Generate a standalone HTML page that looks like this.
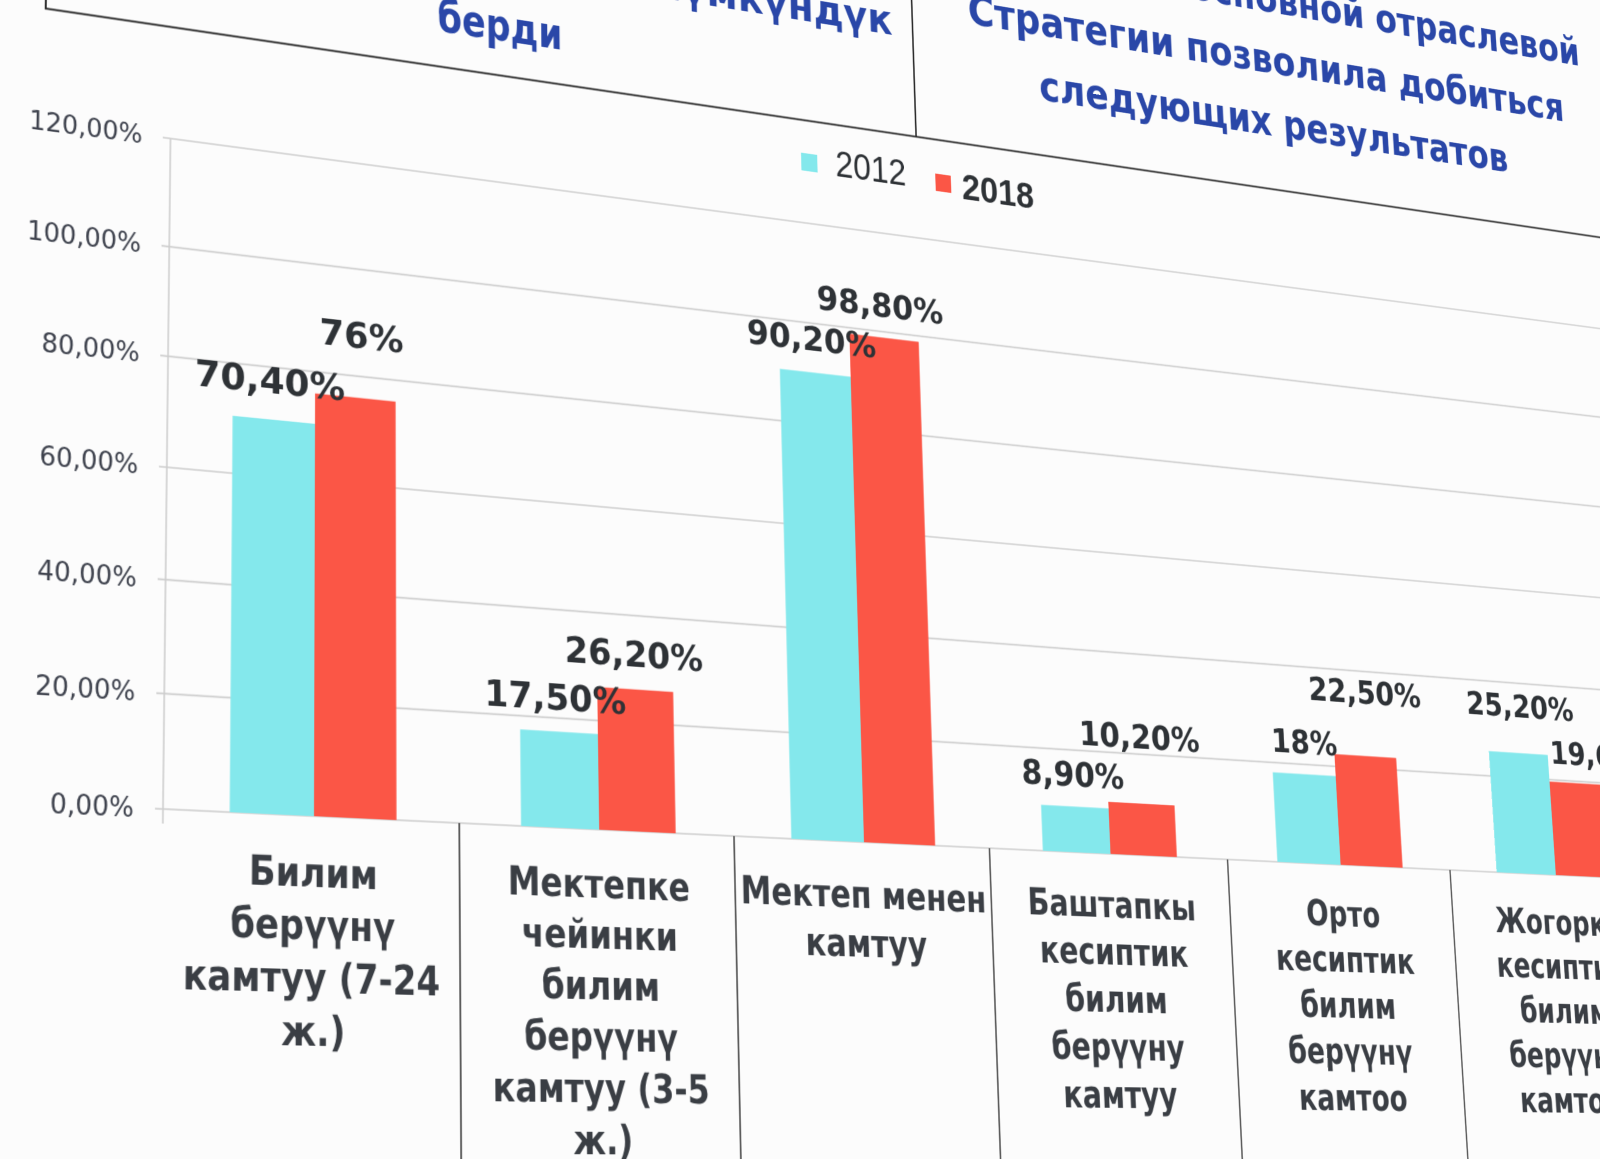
<!DOCTYPE html>
<html>
<head>
<meta charset="utf-8">
<style>
html,body{margin:0;padding:0;width:1600px;height:1159px;overflow:hidden;background:#fcfcfc;}
#frame{position:relative;width:1600px;height:1159px;overflow:hidden;background:#fcfcfc;}
#plane{position:absolute;left:0;top:0;width:1px;height:1px;transform-origin:0 0;
transform:matrix3d(0.981537,0.144727,0,0.00012256,-0.020478,0.954675,0,-0.00005695,0,0,1,0,170.5,138.5,0,1);}
#plane svg{position:absolute;left:-300px;top:-450px;overflow:visible;}
</style>
</head>
<body>
<div id="frame">
<div id="plane">
<svg width="2400" height="1500" viewBox="-300 -450 2400 1500">
  <!-- title box lines -->
  <path d="M-130,-450 L-130,-116.5 L2100,-116.5 M862,-450 L862,-117" stroke="#2b2b2b" stroke-width="2" fill="none"/>

  <!-- titles -->
  <g fill="#2a47a8" font-family="DejaVu Sans, sans-serif" font-weight="bold">
    <text x="836" y="-231" text-anchor="end" font-size="48" textLength="300" lengthAdjust="spacingAndGlyphs">мүмкүндүк</text>
    <text x="520" y="-231" text-anchor="end" font-size="48">билим алууга</text>
    <text x="360" y="-155" text-anchor="middle" font-size="48" textLength="143" lengthAdjust="spacingAndGlyphs">берди</text>
    <text x="1361" y="-335" text-anchor="middle" font-size="50" textLength="916" lengthAdjust="spacingAndGlyphs">Реализация основной отраслевой</text>
    <text x="1361.5" y="-259" text-anchor="middle" font-size="50" textLength="853" lengthAdjust="spacingAndGlyphs">Стратегии позволила добиться</text>
    <text x="1360.5" y="-182" text-anchor="middle" font-size="50" textLength="669" lengthAdjust="spacingAndGlyphs">следующих результатов</text>
  </g>

  <!-- legend -->
  <rect x="716" y="-79" width="20" height="20" fill="#84e8ec"/>
  <text x="803" y="-58" text-anchor="middle" font-family="Liberation Sans, sans-serif" font-size="42" fill="#2e3236" textLength="89" lengthAdjust="spacingAndGlyphs">2012</text>
  <rect x="885" y="-77" width="20" height="20" fill="#fb5646"/>
  <text x="966" y="-52" text-anchor="middle" font-family="Liberation Sans, sans-serif" font-weight="bold" font-size="42" fill="#2e3236" textLength="94" lengthAdjust="spacingAndGlyphs">2018</text>

  <!-- gridlines -->
  <g stroke="#cdcdcd" stroke-width="1.6">
    <line x1="-8" y1="0" x2="2100" y2="0"/>
    <line x1="-8" y1="111.67" x2="2100" y2="111.67"/>
    <line x1="-8" y1="223.33" x2="2100" y2="223.33"/>
    <line x1="-8" y1="335" x2="2100" y2="335"/>
    <line x1="-8" y1="446.67" x2="2100" y2="446.67"/>
    <line x1="-8" y1="558.33" x2="2100" y2="558.33"/>
    <line x1="-8" y1="670" x2="2100" y2="670"/>
    <line x1="0" y1="0" x2="0" y2="684"/>
  </g>

  <!-- y-axis labels -->
  <g font-family="DejaVu Sans, sans-serif" font-size="26" fill="#3f434e" text-anchor="end">
    <text x="-29" y="9">120,00%</text>
    <text x="-29" y="120.67">100,00%</text>
    <text x="-29" y="232.33">80,00%</text>
    <text x="-29" y="344">60,00%</text>
    <text x="-29" y="455.67">40,00%</text>
    <text x="-29" y="567.33">20,00%</text>
    <text x="-29" y="679">0,00%</text>
  </g>

  <!-- bars -->
  <g fill="#84e8ec">
    <rect x="67.3" y="276.93" width="86.7" height="393.07"/>
    <rect x="375.3" y="572.29" width="86.7" height="97.71"/>
    <rect x="683.3" y="166.38" width="86.7" height="503.62"/>
    <rect x="991.3" y="620.31" width="86.7" height="49.69"/>
    <rect x="1299.3" y="569.5" width="86.7" height="100.5"/>
    <rect x="1607.3" y="529.3" width="86.7" height="140.7"/>
  </g>
  <g fill="#fb5646">
    <rect x="154" y="245.67" width="86.7" height="424.33"/>
    <rect x="462" y="523.72" width="86.7" height="146.28"/>
    <rect x="770" y="118.37" width="86.7" height="551.63"/>
    <rect x="1078" y="613.05" width="86.7" height="56.95"/>
    <rect x="1386" y="544.37" width="86.7" height="125.63"/>
    <rect x="1694" y="560.57" width="86.7" height="109.43"/>
  </g>

  <!-- data labels -->
  <g font-family="DejaVu Sans, sans-serif" font-weight="bold" font-size="38" fill="#2e3236" text-anchor="middle">
    <text x="107" y="249.6">70,40%</text>
    <text x="204" y="194">76%</text>
    <text x="415.5" y="550">17,50%</text>
    <text x="505" y="500">26,20%</text>
    <text x="723.6" y="142">90,20%</text>
    <text x="810" y="95">98,80%</text>
    <text x="1034" y="597.6">8,90%</text>
    <text x="1123" y="552">10,20%</text>
    <text x="1345" y="546">18%</text>
    <text x="1434" y="484">22,50%</text>
    <text x="1658" y="487">25,20%</text>
    <text x="1777" y="539">19,60%</text>
  </g>

  <!-- category separators -->
  <g stroke="#4a4a4a" stroke-width="1.8">
    <line x1="308" y1="670" x2="308" y2="1030"/>
    <line x1="616" y1="670" x2="616" y2="1030"/>
    <line x1="924" y1="670" x2="924" y2="1030"/>
    <line x1="1232" y1="670" x2="1232" y2="1030"/>
    <line x1="1540" y1="670" x2="1540" y2="1030"/>
    <line x1="1848" y1="670" x2="1848" y2="1030"/>
  </g>

  <!-- category labels -->
  <g font-family="DejaVu Sans, sans-serif" font-weight="bold" font-size="40" fill="#3a3e44" text-anchor="middle">
    <g transform="translate(154 0) scale(0.9 1)">
      <text x="0" y="739">Билим</text>
      <text x="0" y="790">берүүнү</text>
      <text x="0" y="841">камтуу (7-24</text>
      <text x="0" y="892">ж.)</text>
    </g>
    <g transform="translate(462 0) scale(0.9 1)">
      <text x="0" y="739">Мектепке</text>
      <text x="0" y="790">чейинки</text>
      <text x="0" y="841">билим</text>
      <text x="0" y="892">берүүнү</text>
      <text x="0" y="943">камтуу (3-5</text>
      <text x="0" y="994">ж.)</text>
    </g>
    <g transform="translate(770 0) scale(0.9 1)">
      <text x="0" y="739">Мектеп менен</text>
      <text x="0" y="790">камтуу</text>
    </g>
    <g transform="translate(1078 0) scale(0.9 1)">
      <text x="0" y="739">Баштапкы</text>
      <text x="0" y="790">кесиптик</text>
      <text x="0" y="841">билим</text>
      <text x="0" y="892">берүүну</text>
      <text x="0" y="943">камтуу</text>
    </g>
    <g transform="translate(1386 0) scale(0.9 1)">
      <text x="0" y="739">Орто</text>
      <text x="0" y="790">кесиптик</text>
      <text x="0" y="841">билим</text>
      <text x="0" y="892">берүүнү</text>
      <text x="0" y="943">камтоо</text>
    </g>
    <g transform="translate(1694 0) scale(0.9 1)">
      <text x="0" y="739">Жогорку</text>
      <text x="0" y="790">кесиптик</text>
      <text x="0" y="841">билим</text>
      <text x="0" y="892">берүүнү</text>
      <text x="0" y="943">камтоо</text>
    </g>
  </g>
</svg>
</div>
</div>
</body>
</html>
